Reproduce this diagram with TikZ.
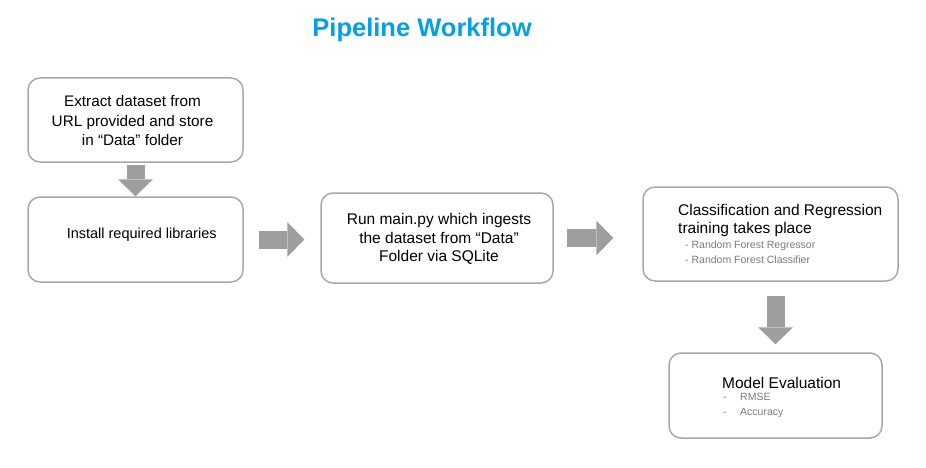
\documentclass[tikz,border=0pt]{standalone}
\usepackage{fontspec}
\setmainfont{Liberation Sans}
\usetikzlibrary{arrows.meta}
\definecolor{titleblue}{RGB}{3,160,228}
\definecolor{edgegray}{RGB}{168,168,168}
\definecolor{flowgray}{RGB}{158,158,158}
\definecolor{notegray}{RGB}{122,122,122}

\begin{document}
\begin{tikzpicture}[x=1pt, y=-1pt, every node/.style={font=\fontsize{15.3}{19.5}\selectfont}, bx/.style={draw=edgegray, line width=1.5pt, rounded corners=12pt, inner sep=0pt}, txt/.style={align=center, inner sep=0pt}, big/.style={font=\fontsize{15.5}{18.8}\selectfont}, note/.style={font=\fontsize{10.5}{15}\selectfont, text=notegray}, flow/.style={draw=flowgray, line width=18pt, -{Triangle[length=17pt, width=35pt, line width=0pt]}}]
	\useasboundingbox (0,0) rectangle (926,468);
	\node[font=\bfseries\fontsize{25.5}{30}\selectfont, text=titleblue] (title) at (422,30) {Pipeline Workflow};
	% boxes
	\node[bx, minimum width=215pt, minimum height=84pt] (extract) at (135.5,120) {};
	\node[txt] (extractT) at (132.5,121) {Extract dataset from\\URL provided and store\\in “Data” folder};
	\node[bx, minimum width=215pt, minimum height=85pt] (install) at (135.5,239.5) {};
	\node[txt, font=\fontsize{14.5}{18}\selectfont] (installT) at (141.7,235) {Install required libraries};
	\node[bx, minimum width=232pt, minimum height=90pt] (ingest) at (437,238) {};
	\node[txt, big] (ingestT) at (439,239) {Run main.py which ingests\\the dataset from “Data”\\Folder via SQLite};
	\node[bx, minimum width=255pt, minimum height=94pt] (train) at (770.5,234) {};
	\node[txt, big, align=left, anchor=west] (trainT) at (678,220.5) {Classification and Regression\\training takes place};
	\node[txt, note, align=left, anchor=west] (trainN) at (685,252.5) {- Random Forest Regressor\\- Random Forest Classifier};
	\node[bx, minimum width=213pt, minimum height=85pt] (evalbox) at (775.5,395.5) {};
	\node[txt, big, anchor=west] (evalT) at (722,383) {Model Evaluation};
	\node[txt, note, align=left, anchor=west] (evalN) at (723,405.5) {\makebox[17pt][l]{-}RMSE\\\makebox[17pt][l]{-}Accuracy};
	% block arrows
	\draw[flow, shorten <=2pt] (extract.south) -- (install.north);
	\draw[flow, shorten <=15pt, shorten >=16pt] (install.east) -- (install.east -| ingest.west);
	\draw[flow, shorten <=13pt, shorten >=29pt] (ingest.east) -- (ingest.east -| train.west);
	\draw[flow, shorten <=14pt, shorten >=8pt] (evalbox.north |- train.south) -- (evalbox.north);
\end{tikzpicture}
\end{document}
